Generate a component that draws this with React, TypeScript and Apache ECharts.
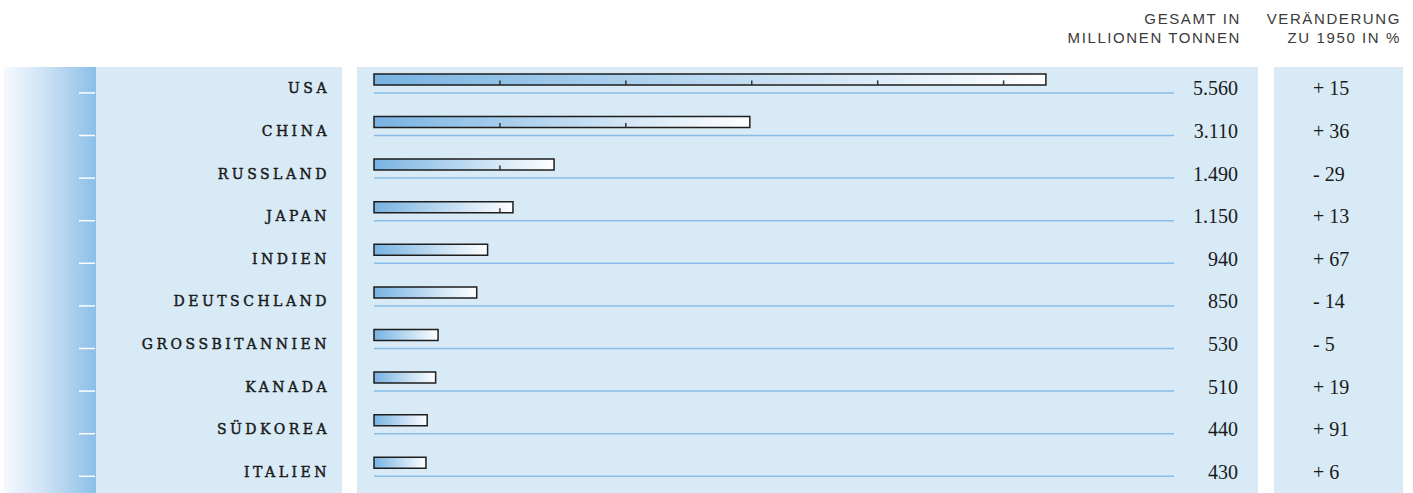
import React, { useEffect, useRef } from "react";
import * as echarts from "echarts";

const countries = ["USA", "CHINA", "RUSSLAND", "JAPAN", "INDIEN", "DEUTSCHLAND", "GROSSBITANNIEN", "KANADA", "SÜDKOREA", "ITALIEN"];
const totals = [5560, 3110, 1490, 1150, 940, 850, 530, 510, 440, 430];
const changes = [15, 36, -29, 13, 67, -14, -5, 19, 91, 6];
const headerTotal = ["GESAMT IN", "MILLIONEN TONNEN"];
const headerChange = ["VERÄNDERUNG", "ZU 1950 IN %"];
const X_MAX = 6620;
const TICK_STEP = 1042;

const fmtTotal = (v: number) => String(v).replace(/\B(?=(\d{3})+(?!\d))/g, ".");
const fmtChange = (v: number) => (v < 0 ? "- " : "+ ") + Math.abs(v);

export default function App() {
  const ref = useRef<HTMLDivElement>(null);
  useEffect(() => {
    const chart = echarts.init(ref.current!, null, { renderer: "svg" });
    const panel = "#d7eaf6";
    chart.setOption({
      animation: false,
      grid: { left: 374, top: 67, width: 800, height: 428, containLabel: false },
      xAxis: { type: "value", min: 0, max: X_MAX, show: false },
      yAxis: [
        {
          type: "category", data: countries, inverse: true,
          axisLine: { show: false }, axisTick: { show: false }, splitLine: { show: false },
          axisLabel: { margin: 44, align: "right", fontFamily: "DejaVu Serif", fontSize: 14, color: "#1a1a1a",
            textBorderColor: "#1a1a1a", textBorderWidth: 0.45 },
        },
        {
          type: "category", data: countries, inverse: true, position: "right",
          axisLine: { show: false }, axisTick: { show: false }, splitLine: { show: false },
          axisLabel: { margin: 64, align: "right", fontFamily: "Liberation Serif", fontSize: 20, color: "#1a1a1a",
            formatter: (_v: string, i: number) => fmtTotal(totals[i]) },
        },
        {
          type: "category", data: countries, inverse: true, position: "right",
          axisLine: { show: false }, axisTick: { show: false }, splitLine: { show: false },
          axisLabel: { margin: 139, align: "left", fontFamily: "Liberation Serif", fontSize: 20, color: "#1a1a1a",
            formatter: (_v: string, i: number) => fmtChange(changes[i]) },
        },
      ],
      graphic: [
        { type: "rect", z: -10, shape: { x: 4, y: 67, width: 92, height: 426 },
          style: { fill: new echarts.graphic.LinearGradient(0, 0, 1, 0, [
            { offset: 0, color: "#f5f9fd" }, { offset: 0.4, color: "#d2e5f6" }, { offset: 1, color: "#8cbfe7" }]) } },
        { type: "rect", z: -10, shape: { x: 96, y: 67, width: 246, height: 426 }, style: { fill: panel } },
        { type: "rect", z: -10, shape: { x: 357, y: 67, width: 901, height: 426 }, style: { fill: panel } },
        { type: "rect", z: -10, shape: { x: 1274, y: 67, width: 129, height: 426 }, style: { fill: panel } },
        ...headerTotal.map((t, i) => ({ type: "text", z: 10, x: 1241, y: 18.5 + i * 19,
          style: { text: t, fill: "#3a3a3a", font: "15px 'Liberation Sans'", textAlign: "right", textVerticalAlign: "middle" } })),
        ...headerChange.map((t, i) => ({ type: "text", z: 10, x: 1401, y: 18.5 + i * 19,
          style: { text: t, fill: "#3a3a3a", font: "15px 'Liberation Sans'", textAlign: "right", textVerticalAlign: "middle" } })),
      ],
      series: [
        {
          type: "custom",
          xAxisIndex: 0, yAxisIndex: 0,
          data: totals.map((v, i) => [v, i]),
          renderItem: (_p: any, api: any) => {
            const v = api.value(0) as number;
            const ci = api.value(1) as number;
            const s = api.coord([0, ci]);
            const e = api.coord([v, ci]);
            const r = api.coord([X_MAX, ci]);
            const cy = s[1];
            const top = cy - 14.4;
            const h = 11;
            const ly = cy + 4.6;
            const children: any[] = [
              { type: "line", shape: { x1: s[0], y1: ly, x2: r[0], y2: ly }, style: { stroke: "#89bde6", lineWidth: 1.5 } },
              { type: "line", shape: { x1: 79, y1: ly, x2: 95, y2: ly }, style: { stroke: "#ffffff", lineWidth: 1.5 } },
              { type: "rect", shape: { x: s[0], y: top, width: e[0] - s[0], height: h },
                style: { fill: new echarts.graphic.LinearGradient(0, 0, 1, 0, [
                  { offset: 0, color: "#78b3e2" }, { offset: 1, color: "#ffffff" }]), stroke: "#1e1e1e", lineWidth: 1.5 } },
            ];
            for (let t = TICK_STEP; t < v; t += TICK_STEP) {
              const p = api.coord([t, ci]);
              children.push({ type: "line", shape: { x1: p[0], y1: top + h - 4.5, x2: p[0], y2: top + h },
                style: { stroke: "#333", lineWidth: 1.5 } });
            }
            return { type: "group", children };
          },
        },
      ],
    });
    return () => chart.dispose();
  }, []);
  return (
    <>
      <style>{`
        #chartbox text[style*="DejaVu Serif"], #chartbox text[font-family*="DejaVu Serif"] { letter-spacing: 3.5px; }
        #chartbox text[style*="Liberation Sans"], #chartbox text[font-family*="Liberation Sans"] { letter-spacing: 1.6px; }
      `}</style>
      <div id="chartbox" ref={ref} style={{ position: "fixed", left: 0, top: 0, width: 1413, height: 493, background: "#fff" }} />
    </>
  );
}
